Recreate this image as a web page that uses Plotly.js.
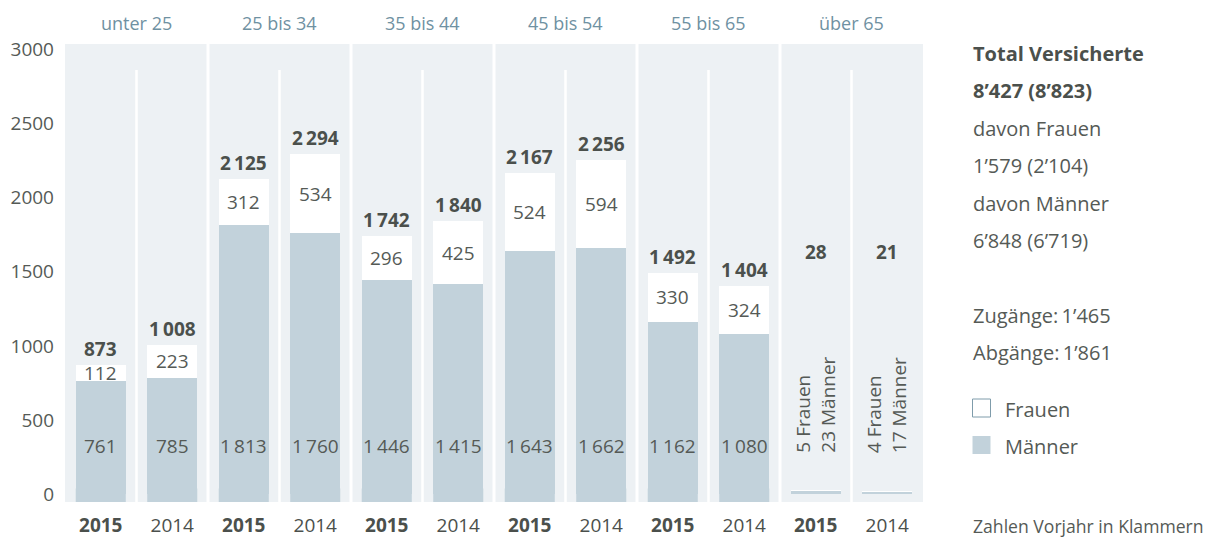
<!DOCTYPE html>
<html><head><meta charset="utf-8">
<script src="https://cdn.plot.ly/plotly-3.0.1.min.js"></script>
<style>html,body{margin:0;padding:0;background:#fff;} #chart{width:1213px;height:537px;}</style>
</head><body><div id="chart"></div>
<script>
// ---- data ----
const altersgruppen = ['unter 25', '25 bis 34', '35 bis 44', '45 bis 54', '55 bis 65', 'über 65'];
const jahre = ['2015', '2014'];
const maenner = [761, 785, 1813, 1760, 1446, 1415, 1643, 1662, 1162, 1080, 23, 17];
const frauen  = [112, 223, 312, 534, 296, 425, 524, 594, 330, 324, 5, 4];
const total   = [873, 1008, 2125, 2294, 1742, 1840, 2167, 2256, 1492, 1404, 28, 21];
const yTicks  = [0, 500, 1000, 1500, 2000, 2500, 3000];
const infoZeilen = ['<b>Total Versicherte</b>', '<b>8’427 (8’823)</b>', 'davon Frauen', '1’579 (2’104)', 'davon Männer', '6’848 (6’719)'];
const bewegungen = ['Zugänge:\u20091’465', 'Abgänge:\u20091’861'];
const legende = ['Frauen', 'Männer'];
const fussnote = 'Zahlen Vorjahr in Klammern';

// ---- styling ----
const FONT = 'Open Sans, Noto Sans, sans-serif';
const DARK = '#4b504c';
const TXT = '#555a56';
const BAR = '#c2d2db';
const PANEL = '#edf1f4';
const GROUPC = '#6f91a2';
const YMIN = -51, YMAX = 3034;
const PLOT_TOP = 44, PLOT_BOT = 502, PLOT_H = PLOT_BOT - PLOT_TOP;
const py = p => (PLOT_BOT - p) / PLOT_H;   // pixel row -> paper y
const px = p => (p - 65) / 858;            // pixel col -> paper x

const fmt = n => n >= 1000 ? String(n).replace(/(\d)(\d{3})$/, '$1\u2009$2') : String(n);
const xpos = total.map((_, i) => i);
const inside = total.map(t => t >= 100);

const traces = [
  {type: 'bar', name: 'Männer', x: xpos, y: maenner, width: 0.7,
   marker: {color: BAR, line: {width: 0}}, hoverinfo: 'none', showlegend: false},
  {type: 'bar', name: 'Frauen', x: xpos, y: frauen, width: 0.7,
   marker: {color: '#ffffff', line: {width: 0}}, hoverinfo: 'none', showlegend: false}
];

const ann = [];
const shapes = [];
const lf = (size, color) => ({family: FONT, size: size, color: color});

xpos.forEach(i => {
  if (inside[i]) {
    ann.push({x: i, y: total[i], xref: 'x', yref: 'y', yanchor: 'bottom', yshift: 1, showarrow: false,
              text: '<b>' + fmt(total[i]) + '</b>', font: lf(19, DARK)});
    ann.push({x: i, y: maenner[i] + frauen[i] / 2, xref: 'x', yref: 'y', yanchor: 'middle', showarrow: false,
              text: fmt(frauen[i]), font: lf(19, TXT)});
    ann.push({x: i, y: 325, xref: 'x', yref: 'y', yanchor: 'middle', showarrow: false,
              text: fmt(maenner[i]), font: lf(19, TXT)});
    // foot of the bar down to the panel edge (overlaps bar base to avoid a seam)
    shapes.push({type: 'rect', xref: 'x', yref: 'y', x0: i - 0.35, x1: i + 0.35, y0: YMIN, y1: Math.min(40, maenner[i]),
                 fillcolor: BAR, line: {width: 0}, layer: 'below'});
  } else {
    ann.push({x: i, y: 1633, xref: 'x', yref: 'y', yanchor: 'middle', showarrow: false,
              text: '<b>' + fmt(total[i]) + '</b>', font: lf(19, DARK)});
    ann.push({x: i, y: 603, xref: 'x', yref: 'y', yanchor: 'middle', xanchor: 'center', showarrow: false,
              textangle: -90, align: 'left',
              text: frauen[i] + ' Frauen<br>' + maenner[i] + ' Männer', font: lf(19, TXT)});
  }
});

// group labels and separators
altersgruppen.forEach((g, k) => {
  ann.push({x: 2 * k + 0.5, y: py(23), xref: 'x', yref: 'paper', yanchor: 'middle', showarrow: false,
            text: g, font: lf(18, GROUPC)});
  shapes.push({type: 'line', xref: 'x', yref: 'paper', x0: 2 * k + 0.5, x1: 2 * k + 0.5, y0: 0, y1: py(70),
               line: {color: '#ffffff', width: 2.5}, layer: 'below'});
  if (k > 0) {
    shapes.push({type: 'line', xref: 'x', yref: 'paper', x0: 2 * k - 0.5, x1: 2 * k - 0.5, y0: 0, y1: 1,
                 line: {color: '#ffffff', width: 3}, layer: 'below'});
  }
});

// right-hand info block
infoZeilen.forEach((t, k) => {
  ann.push({x: px(971), y: py(53 + k * 37.6), xref: 'paper', yref: 'paper', xanchor: 'left', yanchor: 'middle',
            showarrow: false, text: t, font: lf(20, k < 2 ? DARK : TXT)});
});
bewegungen.forEach((t, k) => {
  ann.push({x: px(971), y: py(315 + k * 37), xref: 'paper', yref: 'paper', xanchor: 'left', yanchor: 'middle',
            showarrow: false, text: t, font: lf(20, TXT)});
});
legende.forEach((t, k) => {
  const top = 399 + k * 37;
  shapes.push({type: 'rect', xref: 'paper', yref: 'paper', x0: px(972.5), x1: px(990.5), y0: py(top + 18), y1: py(top),
               fillcolor: k === 0 ? '#ffffff' : BAR, line: {color: k === 0 ? '#7f9cab' : BAR, width: k === 0 ? 1 : 0}});
  ann.push({x: px(1003), y: py(top + 10), xref: 'paper', yref: 'paper', xanchor: 'left', yanchor: 'middle',
            showarrow: false, text: t, font: lf(20, TXT)});
});
ann.push({x: px(971), y: py(526), xref: 'paper', yref: 'paper', xanchor: 'left', yanchor: 'middle',
          showarrow: false, text: fussnote, font: lf(17.6, TXT)});

const layout = {
  width: 1213, height: 537, autosize: false,
  margin: {l: 65, r: 290, t: 44, b: 35, pad: 0},
  paper_bgcolor: '#ffffff', plot_bgcolor: PANEL,
  barmode: 'stack', bargap: 0.3,
  font: {family: FONT, color: TXT},
  showlegend: false,
  xaxis: {range: [-0.5, 11.5], tickvals: xpos,
          ticktext: xpos.map(i => i % 2 === 0 ? '<b>' + jahre[0] + '</b>' : jahre[1]),
          tickfont: lf(19, DARK), showgrid: false, zeroline: false, showline: false, ticks: '',
          ticklabelstandoff: 10, fixedrange: true},
  yaxis: {range: [YMIN, YMAX], tickvals: yTicks, ticktext: yTicks.map(String),
          tickfont: lf(19, TXT), showgrid: false, zeroline: false, showline: false, ticks: '',
          ticklabelstandoff: 10, fixedrange: true},
  annotations: ann,
  shapes: shapes
};

Plotly.newPlot('chart', traces, layout, {staticPlot: true, displayModeBar: false});
</script>
</body></html>
